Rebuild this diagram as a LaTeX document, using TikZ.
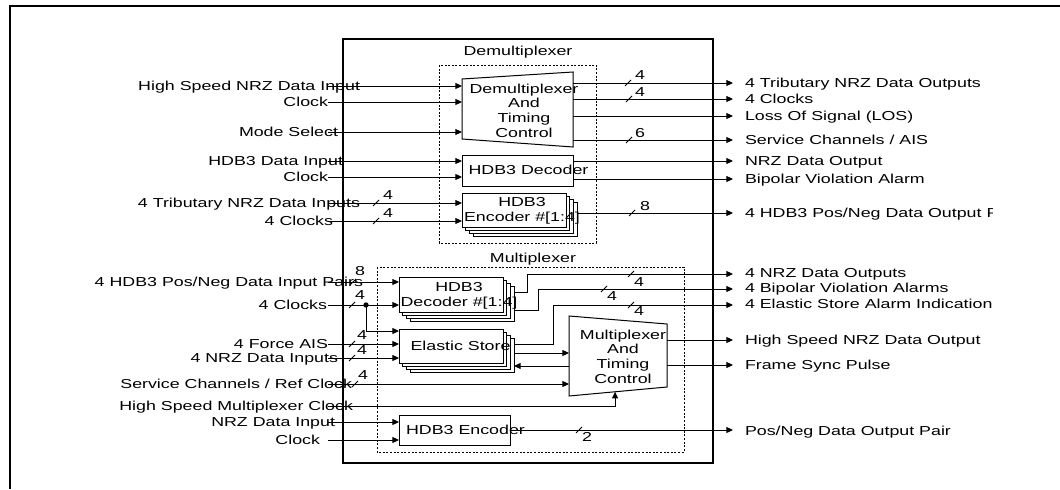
\documentclass[tikz,border=0pt]{standalone}
\usepackage{fontspec}
\setmainfont{Liberation Sans}[FakeStretch=1.37]
\usetikzlibrary{arrows.meta,calc,shadows}
\begin{document}
\begin{tikzpicture}[x=0.75pt,y=-0.75pt,line width=0.75pt,
  every node/.style={font=\fontsize{9.75}{11}\selectfont,inner sep=0pt,outer sep=0pt},
  lab/.style={text height=6.98pt,text depth=0pt},
  arr/.style={-{Triangle[length=5pt,width=4.5pt]}},
  box/.style={draw,fill=white,line width=0.75pt},
  stack/.style={box,
    copy shadow={shadow xshift=8.25pt,shadow yshift=-6.75pt,fill=white,draw},
    copy shadow={shadow xshift=5.5pt,shadow yshift=-4.5pt,fill=white,draw},
    copy shadow={shadow xshift=2.75pt,shadow yshift=-2.25pt,fill=white,draw}},
  blk/.style={align=center},
  grp/.style={draw,dash pattern=on 1.5pt off 1.2pt,line width=0.7pt},
  frame/.style={line width=1.6pt},
  chip/.style={line width=1pt},
  slash/.pic={\draw (-3,3) -- (3,-3);},
  jn/.style={circle,fill,minimum size=4pt}
]
\useasboundingbox (0,0) rectangle (1060,489);
\draw[frame] (10,489) -- (10,6) -- (1060,6);
\draw[chip] (343,39) rectangle (713,463);
% groups
\draw[grp] (439,65) rectangle (596,243);
\node (gD) at (518,52) {Demultiplexer};
\draw[grp] (377,267) rectangle (684,452);
\node (gM) at (533,259) {Multiplexer};

% ---------- Demultiplexer blocks
\node[minimum width=83.25pt,minimum height=56.25pt] (dmx) at (517.5,109.5) {};
\draw[box] ($(dmx.north west)+(0,7)$) -- (dmx.north east) -- (dmx.south east) -- ($(dmx.south west)+(0,-8)$) -- cycle;
\node[blk] (dmxt) at (524,110.5) {Demultiplexer\\And\\Timing\\Control};
\node[box,minimum width=83.25pt,minimum height=23.25pt] (dhd) at (517.5,170.5) {};
\node[lab] (dhdt) at (528.5,170) {HDB3 Decoder};
\node[stack,minimum width=78pt,minimum height=25.5pt] (denc) at (514,210) {};
\node[blk] (denct) at (522,211) {HDB3\\Encoder \#[1:4]};
\coordinate (dencR) at ($(denc.east)+(11,0)$);

% demux inputs
\node[lab,anchor=east] (i1) at (360,86) {High Speed NRZ Data Input};
\node[lab,anchor=east] (i2) at (328,102) {Clock};
\node[lab,anchor=east] (i3) at (338,132) {Mode Select};
\node[lab,anchor=east] (i4) at (343,161) {HDB3 Data Input};
\node[lab,anchor=east] (i5) at (328,177) {Clock};
\node[lab,anchor=east] (i6) at (360,203) {4 Tributary NRZ Data Inputs};
\node[lab,anchor=east] (i7) at (333,221) {4 Clocks};
\coordinate (i1s) at (328,86);
\coordinate (i2s) at (328,102);
\coordinate (i3s) at (328,132);
\coordinate (i4s) at (328,161);
\coordinate (i5s) at (328,177);
\coordinate (i6s) at (328,203);
\coordinate (i7s) at (328,221);
\draw[arr] (i1s) -- (i1s -| dmx.west);
\draw[arr] (i2s) -- (i2s -| dmx.west);
\draw[arr] (i3s) -- (i3s -| dmx.west);
\draw[arr] (i4s) -- (i4s -| dhd.west);
\draw[arr] (i5s) -- (i5s -| dhd.west);
\draw[arr] (i6s) -- (i6s -| denc.west);
\draw[arr] (i7s) -- (i7s -| denc.west);
\pic at (376,203) {slash};
\node (b1) at (388,195) {4};
\pic at (376,221) {slash};
\node (b2) at (388,213) {4};

% demux outputs
\node[lab,anchor=west] (o1) at (745,83) {4 Tributary NRZ Data Outputs};
\node[lab,anchor=west] (o2) at (745,99) {4 Clocks};
\node[lab,anchor=west] (o3) at (745,116) {Loss Of Signal (LOS)};
\node[lab,anchor=west] (o4) at (745,140) {Service Channels / AIS};
\node[lab,anchor=west] (o5) at (745,161) {NRZ Data Output};
\node[lab,anchor=west] (o6) at (745,179) {Bipolar Violation Alarm};
\begin{scope}
\clip (740,195) rectangle (992,230);
\node[lab,anchor=west] (o7) at (745,213) {4 HDB3 Pos/Neg Data Output Pairs};
\end{scope}
\coordinate (o1e) at (733,83);
\coordinate (o2e) at (733,99);
\coordinate (o3e) at (733,116);
\coordinate (o4e) at (733,140);
\coordinate (o5e) at (733,161);
\coordinate (o6e) at (733,179);
\coordinate (o7e) at (733,213);
\draw[arr] (dmx.east |- o1e) -- (o1e);
\draw[arr] (dmx.east |- o2e) -- (o2e);
\draw[arr] (dmx.east |- o3e) -- (o3e);
\draw[arr] (dmx.east |- o4e) -- (o4e);
\draw[arr] (dhd.east |- o5e) -- (o5e);
\draw[arr] (dhd.east |- o6e) -- (o6e);
\draw[arr] (dencR |- o7e) -- (o7e);
\pic at (628,83) {slash};
\node (b3) at (640,75) {4};
\pic at (629,99) {slash};
\node (b4) at (640,92) {4};
\pic at (629,140) {slash};
\node (b5) at (640,133) {6};
\pic at (632,213) {slash};
\node (b6) at (645,206) {8};

% ---------- Multiplexer blocks
\node[stack,minimum width=78pt,minimum height=26.25pt] (mdec) at (451,294.5) {};
\node[blk] (mdect) at (459,295.5) {HDB3\\Decoder \#[1:4]};
\node[stack,minimum width=78pt,minimum height=25.5pt] (mes) at (451,346) {};
\node[lab] (mest) at (460.5,346) {Elastic Store};
\node[box,minimum width=83.25pt,minimum height=22.5pt] (menc) at (454.5,430) {};
\node[lab] (menct) at (465.5,430) {HDB3 Encoder};
\coordinate (mdecR) at ($(mdec.east)+(11,0)$);
\coordinate (mesR) at ($(mes.east)+(11,0)$);
\node[minimum width=73.5pt,minimum height=60pt] (mux) at (618,356) {};
\coordinate (mtr) at ($(mux.north east)+(0,8)$);
\coordinate (mbr) at ($(mux.south east)+(0,-9)$);
\draw[box] (mux.north west) -- (mtr) -- (mbr) -- (mux.south west) -- cycle;
\node[blk] (muxt) at (623,356.5) {Multiplexer\\And\\Timing\\Control};
\coordinate (hsc) at ($(mux.south west)!0.47!(mbr)$);

% mux inputs
\node[lab,anchor=east] (j1) at (363,282) {4 HDB3 Pos/Neg Data Input Pairs};
\node[lab,anchor=east] (j2) at (327,305) {4 Clocks};
\node[lab,anchor=east] (j3) at (328,344) {4 Force AIS};
\node[lab,anchor=east] (j4) at (338,358) {4 NRZ Data Inputs};
\node[lab,anchor=east] (j5) at (352,384) {Service Channels / Ref Clock};
\node[lab,anchor=east] (j6) at (353,406) {High Speed Multiplexer Clock};
\node[lab,anchor=east] (j7) at (335,422) {NRZ Data Input};
\node[lab,anchor=east] (j8) at (320,440) {Clock};
\coordinate (j1s) at (328,282);
\coordinate (j2s) at (328,305);
\coordinate (j3s) at (328,344);
\coordinate (j4s) at (328,358);
\coordinate (j5s) at (328,384);
\coordinate (j6s) at (328,406);
\coordinate (j7s) at (328,422);
\coordinate (j8s) at (328,440);
\node[jn] (dot) at (366,305) {};
\coordinate (brk) at (366,331);
\draw[arr] (j1s) -- (j1s -| mdec.west);
\draw[arr] (j2s) -- (j2s -| mdec.west);
\draw[arr] (dot.center) -- (brk) -- (brk -| mes.west);
\draw[arr] (j3s) -- (j3s -| mes.west);
\draw[arr] (j4s) -- (j4s -| mes.west);
\draw[arr] (j5s) -- (j5s -| mux.west);
\draw[arr] (j6s) -| (hsc);
\draw[arr] (j7s) -- (j7s -| menc.west);
\draw[arr] (j8s) -- (j8s -| menc.west);
\pic at (353,282) {slash};
\node (c1) at (360,271) {8};
\pic at (352,305) {slash};
\node (c2) at (360,295) {4};
\pic at (352,344) {slash};
\node (c3) at (362,335) {4};
\pic at (352,358) {slash};
\node (c4) at (362,350) {4};
\pic at (355,384) {slash};
\node (c5) at (363,375) {4};

% mux outputs
\node[lab,anchor=west] (p1) at (745,273) {4 NRZ Data Outputs};
\node[lab,anchor=west] (p2) at (745,288) {4 Bipolar Violation Alarms};
\node[lab,anchor=west] (p3) at (745,304) {4 Elastic Store Alarm Indication};
\node[lab,anchor=west] (p4) at (745,340) {High Speed NRZ Data Output};
\node[lab,anchor=west] (p5) at (745,365) {Frame Sync Pulse};
\node[lab,anchor=west] (p6) at (745,431) {Pos/Neg Data Output Pair};
\coordinate (p1e) at (733,274);
\coordinate (p2e) at (733,289);
\coordinate (p3e) at (733,305);
\coordinate (p4e) at (733,340);
\coordinate (p5e) at (733,365);
\coordinate (p6e) at (733,430);
\draw[arr] (mdecR |- 0,292) -- (527,292) -- (527,274) -- (p1e);
\draw[arr] (mdecR |- 0,310) -- (538,310) -- (538,289) -- (p2e);
\draw[arr] (mesR |- 0,344) -- (553,344) -- (553,305) -- (p3e);
\draw[arr] (mesR |- 0,353) -- (mux.west |- 0,353);
\draw[arr] (mux.west |- 0,366) -- (mesR |- 0,366);
\draw[arr] (mux.east |- p4e) -- (p4e);
\draw[arr] (mux.east |- p5e) -- (p5e);
\draw[arr] (menc.east |- p6e) -- (p6e);
\pic at (631,274) {slash};
\node (d1) at (639,282) {4};
\pic at (604,289) {slash};
\node (d2) at (612,296) {4};
\pic at (631,305) {slash};
\node (d3) at (639,311) {4};
\pic at (579,430) {slash};
\node (d4) at (587,437) {2};
\end{tikzpicture}
\end{document}
